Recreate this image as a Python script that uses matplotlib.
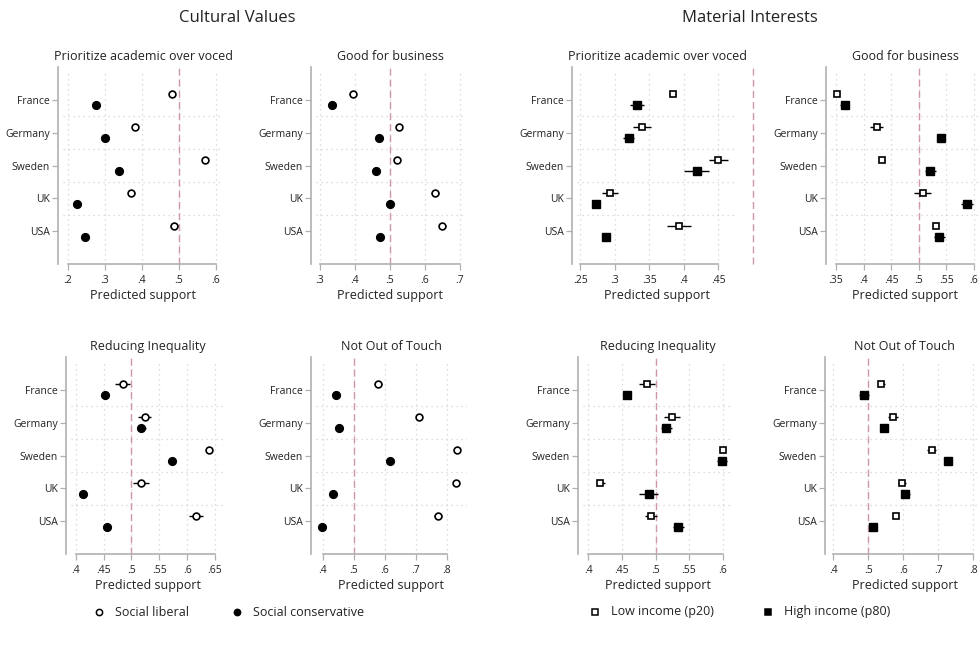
import numpy as np
import matplotlib.pyplot as plt
from matplotlib.lines import Line2D

plt.rcParams['font.family'] = ['Open Sans', 'DejaVu Sans']

countries = ["France", "Germany", "Sweden", "UK", "USA"]

# Cultural values: social liberal (lib) vs social conservative (con), value and CI half width
acad_lib = [0.482, 0.380, 0.569, 0.371, 0.486]
acad_lib_ci = [0.004, 0.003, 0.003, 0.010, 0.010]
acad_con = [0.277, 0.299, 0.339, 0.224, 0.246]
acad_con_ci = [0.003, 0.003, 0.007, 0.003, 0.003]

biz_lib = [0.393, 0.525, 0.521, 0.629, 0.649]
biz_lib_ci = [0.010, 0.003, 0.003, 0.012, 0.010]
biz_con = [0.335, 0.469, 0.460, 0.499, 0.471]
biz_con_ci = [0.003, 0.006, 0.005, 0.003, 0.003]

ineq_lib = [0.484, 0.524, 0.640, 0.517, 0.616]
ineq_lib_ci = [0.013, 0.012, 0.003, 0.015, 0.012]
ineq_con = [0.453, 0.518, 0.573, 0.413, 0.456]
ineq_con_ci = [0.006, 0.008, 0.004, 0.003, 0.006]

touch_lib = [0.578, 0.712, 0.833, 0.831, 0.772]
touch_lib_ci = [0.012, 0.003, 0.004, 0.006, 0.012]
touch_con = [0.443, 0.454, 0.617, 0.434, 0.399]
touch_con_ci = [0.004, 0.006, 0.012, 0.004, 0.004]

# Material interests: low income (p20) vs high income (p80)
macad_low = [0.384, 0.340, 0.450, 0.293, 0.393]
macad_low_ci = [0.005, 0.013, 0.014, 0.012, 0.018]
macad_high = [0.332, 0.320, 0.419, 0.273, 0.287]
macad_high_ci = [0.010, 0.008, 0.018, 0.006, 0.005]

mbiz_low = [0.351, 0.424, 0.433, 0.507, 0.531]
mbiz_low_ci = [0.002, 0.012, 0.005, 0.016, 0.002]
mbiz_high = [0.366, 0.540, 0.521, 0.587, 0.537]
mbiz_high_ci = [0.008, 0.002, 0.010, 0.011, 0.010]

mineq_low = [0.487, 0.524, 0.600, 0.418, 0.493]
mineq_low_ci = [0.012, 0.012, 0.002, 0.007, 0.009]
mineq_high = [0.457, 0.516, 0.599, 0.490, 0.534]
mineq_high_ci = [0.006, 0.008, 0.008, 0.014, 0.008]

mtouch_low = [0.537, 0.571, 0.681, 0.596, 0.578]
mtouch_low_ci = [0.010, 0.015, 0.012, 0.012, 0.008]
mtouch_high = [0.488, 0.545, 0.729, 0.606, 0.514]
mtouch_high_ci = [0.015, 0.003, 0.003, 0.012, 0.012]

W, H = 980, 649
fig = plt.figure(figsize=(W / 100, H / 100), dpi=100)

AX_COL = '#b0b0b0'
GRID_COL = '#dccdd3'
REF_COL = '#cf98a6'
TXT = '#222222'


def fx(px):
    return px / W


def fy(py):
    return 1 - py / H


def fmt(v):
    s = f"{v:g}"
    return s[1:] if s.startswith("0") else s


# (title, ticks, region left/right px, first/last tick px, top px, series a, b, marker)
panels = [
    ("Prioritize academic over voced", [.2, .3, .4, .5, .6], 63, 223, 68, 216, 67,
     (acad_lib, acad_lib_ci), (acad_con, acad_con_ci), 'o'),
    ("Good for business", [.3, .4, .5, .6, .7], 316, 464, 320, 460, 67,
     (biz_lib, biz_lib_ci), (biz_con, biz_con_ci), 'o'),
    ("Prioritize academic over voced", [.25, .3, .35, .4, .45], 577, 737, 580.3, 718.3, 67,
     (macad_low, macad_low_ci), (macad_high, macad_high_ci), 's'),
    ("Good for business", [.35, .4, .45, .5, .55, .6], 831, 979, 836, 974, 67,
     (mbiz_low, mbiz_low_ci), (mbiz_high, mbiz_high_ci), 's'),
    ("Reducing Inequality", [.4, .45, .5, .55, .6, .65], 71, 224, 75.7, 215, 357,
     (ineq_lib, ineq_lib_ci), (ineq_con, ineq_con_ci), 'o'),
    ("Not Out of Touch", [.4, .5, .6, .7, .8], 316, 467, 322.7, 446.7, 357,
     (touch_lib, touch_lib_ci), (touch_con, touch_con_ci), 'o'),
    ("Reducing Inequality", [.4, .45, .5, .55, .6], 583, 733, 588.3, 722.7, 357,
     (mineq_low, mineq_low_ci), (mineq_high, mineq_high_ci), 's'),
    ("Not Out of Touch", [.4, .5, .6, .7, .8], 830, 979, 833.3, 973.3, 357,
     (mtouch_low, mtouch_low_ci), (mtouch_high, mtouch_high_ci), 's'),
]

ypos = np.arange(1, len(countries) + 1)
off = 0.17
ax_h = 197

for title, ticks, left, right, t0, t1, top, sa, sb, mk in panels:
    ax = fig.add_axes([fx(left), fy(top + ax_h), fx(right - left), ax_h / H])
    # map region pixels to data units through the first/last tick
    scale = (ticks[-1] - ticks[0]) / (t1 - t0)
    ax.set_xlim(ticks[0] - (t0 - left) * scale, ticks[-1] + (right - t1) * scale)
    ax.set_ylim(6, 0)

    for v in ticks:
        ax.axvline(v, ymin=0.02, ymax=0.97, color=GRID_COL, lw=0.9, ls=(0, (1, 3)), zorder=0)
    for yb in ypos[:-1] + 0.5:
        ax.axhline(yb, color=GRID_COL, lw=0.9, ls=(0, (1, 3)), zorder=0)
    ax.axvline(0.5, color=REF_COL, lw=1.0, ls=(0, (5, 3)), zorder=1, clip_on=False)

    ms = 4.9 if mk == 'o' else 4.5
    vals, ci = sa
    ax.errorbar(vals, ypos - off, xerr=ci, fmt='none', ecolor='black', elinewidth=1.0, zorder=2)
    ax.plot(vals, ypos - off, ls='none', marker=mk, ms=ms, mfc='white', mec='black', mew=1.2, zorder=3)
    vals, ci = sb
    ax.errorbar(vals, ypos + off, xerr=ci, fmt='none', ecolor='black', elinewidth=1.0, zorder=2)
    ax.plot(vals, ypos + off, ls='none', marker=mk, ms=ms + 0.7, mfc='black', mec='black', mew=1.0, zorder=3)

    ax.set_xticks(ticks)
    ax.set_xticklabels([fmt(v) for v in ticks])
    ax.set_yticks(ypos)
    ax.set_yticklabels(countries)
    ax.tick_params(axis='both', colors=AX_COL, labelcolor=TXT, labelsize=7.5, length=4, width=0.9)
    ax.tick_params(axis='x', pad=4)
    ax.tick_params(axis='y', pad=2)

    for s in ['top', 'right']:
        ax.spines[s].set_visible(False)
    ax.spines['left'].set_position(('outward', 3.6))
    ax.spines['left'].set_color(AX_COL)
    ax.spines['bottom'].set_color(AX_COL)
    ax.spines['left'].set_linewidth(1.2)
    ax.spines['bottom'].set_linewidth(1.2)
    ax.spines['bottom'].set_bounds(ticks[0], ticks[-1])

    ax.set_title(title, fontsize=9, color=TXT, pad=5)
    ax.set_xlabel("Predicted support", fontsize=9, color=TXT, labelpad=2)
    ax.patch.set_alpha(0)

fig.text(fx(237), fy(18), "Cultural Values", ha='center', va='center', fontsize=12, color=TXT)
fig.text(fx(750), fy(18), "Material Interests", ha='center', va='center', fontsize=12, color=TXT)

# legends
leg_y = 612
leg_items = [
    (99, 'o', 'white', "Social liberal"),
    (237, 'o', 'black', "Social conservative"),
    (595, 's', 'white', "Low income (p20)"),
    (768, 's', 'black', "High income (p80)"),
]
for x, mk, fc, lab in leg_items:
    fig.add_artist(Line2D([fx(x)], [fy(leg_y)], marker=mk, ms=4.5, mfc=fc, mec='black', mew=1.1,
                          ls='none', transform=fig.transFigure))
    fig.text(fx(x + 16), fy(leg_y), lab, ha='left', va='center', fontsize=9, color=TXT)

fig.savefig("out.png", dpi=100)
